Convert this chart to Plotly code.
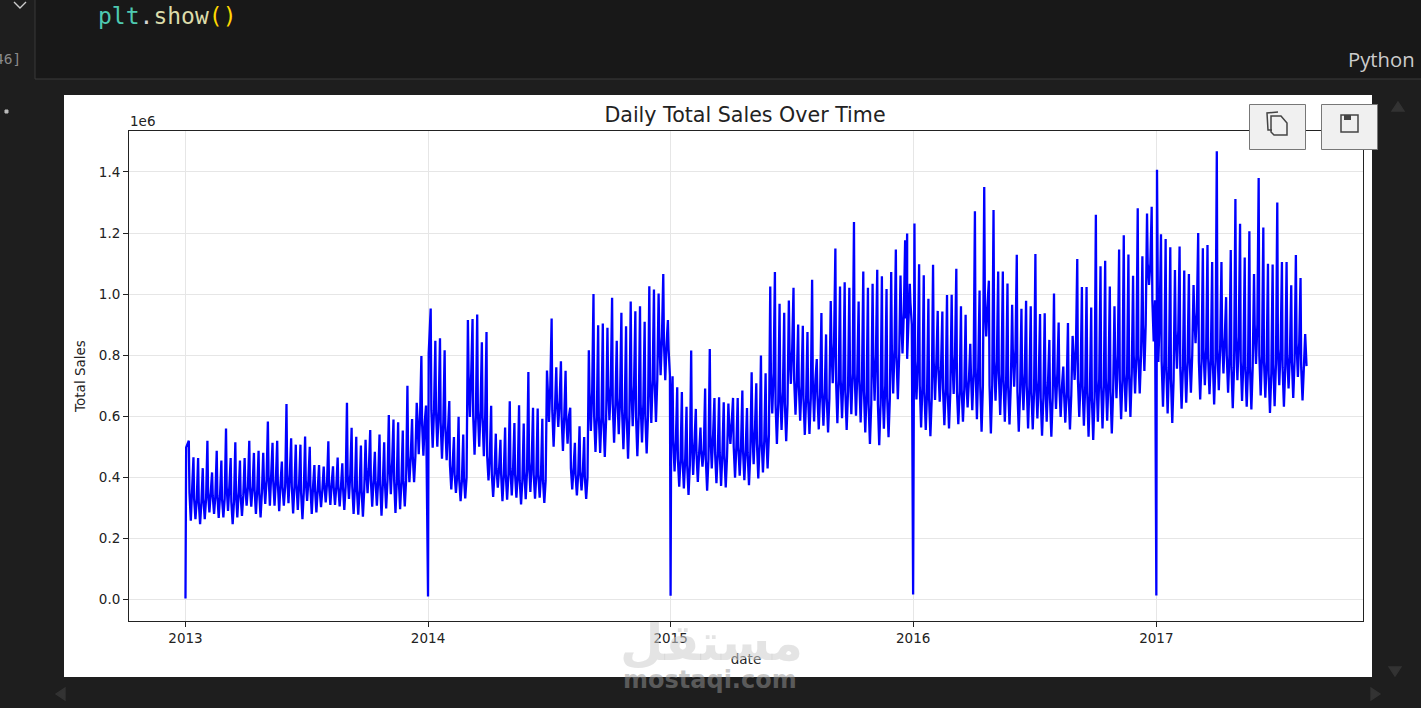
import pandas as pd
import plotly.graph_objects as go

# Values in units of 1e6
peaks_2013 = [.520,.466,.463,.430,.520,.416,.487,.455,.560,.463,
              .515,.455,.463,.520,.480,.487,.480,.583,.513,.520,
              .452,.640,.528,.507,.507,.534,.500,.440,.440,.435,
              .518,.436,.465,.446,.644,.562,.533,.504,.523,.555,
              .484,.540,.515,.604,.589,.580,.553,.700,.591,.644,
              .797,.635]
lows_2013 = [.258,.263,.247,.263,.285,.280,.267,.269,.290,.247,
             .269,.274,.307,.304,.280,.269,.313,.307,.307,.289,
             .307,.315,.282,.293,.263,.323,.280,.285,.302,.318,
             .310,.310,.305,.293,.329,.280,.278,.271,.348,.304,
             .307,.274,.298,.345,.283,.296,.305,.384,.384,.476,
             .471]
bands_2013 = [.35,.33,.32,.33,.35,.34,.34,.33,.37,.32,
              .35,.34,.37,.37,.36,.35,.39,.41,.39,.38,
              .37,.41,.37,.38,.35,.39,.37,.36,.36,.38,
              .38,.37,.37,.37,.41,.37,.36,.36,.43,.39,
              .39,.38,.39,.45,.39,.39,.39,.47,.47,.60,
              .58]
peaks_2014 = [.953,.847,.855,.816,.650,.532,.598,.540,.915,.918,
              .933,.842,.876,.634,.543,.523,.563,.649,.578,.636,
              .576,.745,.628,.625,.592,.750,.920,.760,.780,.749,
              .628,.513,.567,.532,.816,1.000,.898,.904,.890,.988,
              .847,.939,.895,.976,.944,.960,.909,1.026,1.015,1.002,
              1.066,.915]
lows_2014 = [.497,.500,.461,.456,.360,.349,.322,.331,.598,.474,
             .500,.469,.390,.336,.366,.322,.327,.341,.333,.311,
             .328,.352,.330,.333,.316,.581,.500,.565,.486,.510,
             .360,.341,.357,.329,.552,.483,.480,.467,.587,.513,
             .541,.492,.461,.567,.469,.514,.478,.578,.581,.734,
             .718,.734]
bands_2014 = [.62,.62,.58,.57,.44,.41,.39,.40,.74,.60,
              .62,.60,.47,.41,.43,.41,.41,.43,.41,.39,
              .42,.45,.41,.41,.39,.70,.62,.65,.60,.60,
              .43,.41,.42,.40,.68,.60,.60,.59,.70,.64,
              .66,.62,.60,.70,.60,.64,.60,.72,.72,.86,
              .84,.82]
peaks_2015 = [.731,.695,.679,.631,.815,.624,.563,.691,.820,.660,
              .662,.646,.642,.660,.660,.684,.627,.744,.708,.799,
              .741,1.025,1.072,.968,.939,.979,1.021,.900,.896,.876,
              1.047,.787,.938,.868,.977,1.149,1.025,1.039,1.021,1.236,
              .976,1.074,1.021,1.034,1.080,1.058,1.017,1.072,1.146,1.061,
              1.176,1.034]
lows_2015 = [.419,.369,.364,.342,.408,.385,.435,.356,.429,.381,
             .372,.367,.509,.399,.405,.391,.374,.443,.396,.416,
             .429,.609,.509,.555,.518,.706,.605,.585,.539,.542,
             .583,.557,.569,.547,.708,.577,.594,.555,.607,.602,
             .580,.547,.509,.651,.505,.559,.531,.675,.656,.806,
             .788,.900]
bands_2015 = [.52,.46,.46,.44,.52,.48,.49,.46,.54,.48,
              .48,.47,.58,.50,.50,.49,.48,.56,.51,.52,
              .54,.74,.64,.68,.64,.82,.72,.70,.66,.66,
              .72,.67,.68,.66,.84,.72,.72,.68,.74,.74,
              .72,.68,.64,.80,.64,.70,.66,.82,.80,.94,
              .92,.97]
peaks_2016 = [1.231,1.098,1.062,.985,1.096,.945,.943,.997,.998,1.083,
              .960,.932,.837,1.271,1.012,1.351,1.044,1.275,1.074,1.074,
              1.035,.965,1.129,.952,.978,.960,1.131,.935,.937,.850,
              1.002,.907,.763,.905,.863,1.115,1.023,1.023,.956,1.260,
              1.091,1.109,1.025,.960,1.146,1.193,1.130,1.060,1.281,1.124,
              1.264,1.286]
lows_2016 = [.655,.563,.555,.535,.653,.648,.571,.560,.673,.574,
             .582,.629,.620,.590,.549,.861,.544,.651,.604,.582,
             .573,.697,.549,.620,.560,.557,.593,.536,.582,.533,
             .624,.598,.579,.557,.719,.598,.569,.533,.522,.582,
             .560,.585,.544,.659,.590,.615,.598,.675,.675,.748,
             1.030,.845]
bands_2016 = [.78,.70,.68,.66,.78,.76,.69,.68,.80,.68,
              .69,.72,.74,.76,.70,.97,.70,.78,.74,.72,
              .70,.82,.68,.74,.70,.68,.72,.66,.71,.66,
              .74,.70,.68,.67,.82,.72,.70,.68,.66,.72,
              .70,.72,.68,.80,.72,.74,.74,.80,.80,.90,
              1.10,.98]
peaks_2017 = [1.196,1.180,1.153,1.079,1.156,1.077,1.066,1.030,1.200,1.150,
              1.161,1.105,1.468,1.105,.990,1.144,1.311,1.230,1.120,1.206,
              1.066,1.380,1.218,1.099,1.097,1.300,1.105,1.105,1.029,1.128,
              1.053,.869]
lows_2017 = [.778,.631,.609,.578,.756,.625,.644,.677,.839,.655,
             .702,.672,.639,.685,.740,.677,.626,.718,.650,.631,
             .622,.771,.668,.661,.611,.633,.702,.631,.691,.660,
             .729,.652]
bands_2017 = [.92,.78,.76,.72,.88,.76,.78,.80,.94,.78,
              .82,.79,.78,.82,.86,.80,.76,.86,.78,.76,
              .76,.90,.80,.78,.74,.77,.82,.76,.80,.78,
              .84,.76]
first_sundays = ["2013-01-06", "2014-01-05", "2015-01-04", "2016-01-03", "2017-01-08"]
first_lows = ["2013-01-09", "2014-01-08", "2015-01-07", "2016-01-06", "2017-01-04"]
special_dates = ["2013-01-01", "2013-01-02", "2014-01-01", "2014-01-02", "2015-01-01", "2015-01-02",
                 "2015-12-23", "2016-01-01", "2016-01-02", "2017-01-01", "2017-01-02", "2017-08-15"]
special_values = [.003, .498, .010, .805, .012, .620, 1.198, .016, .990, .013, 1.407, .764]
tick_years = ["2013", "2014", "2015", "2016", "2017"]
y_ticks = [0, .2, .4, .6, .8, 1.0, 1.2, 1.4]

points = list(zip(pd.to_datetime(special_dates), special_values))
all_peaks = [peaks_2013, peaks_2014, peaks_2015, peaks_2016, peaks_2017]
all_lows = [lows_2013, lows_2014, lows_2015, lows_2016, lows_2017]
all_bands = [bands_2013, bands_2014, bands_2015, bands_2016, bands_2017]
for start, vals in zip(first_sundays + first_lows, all_peaks + all_lows):
    points += list(zip(pd.date_range(start, periods=len(vals), freq="7D"), vals))
# the Monday and Friday on each side of a weekly low sit at the top of the solid band
for start, vals in zip(first_lows, all_bands):
    days = pd.date_range(start, periods=len(vals), freq="7D")
    for shift in (-2, 2):
        for d, v in zip(days, vals):
            day = d + pd.Timedelta(days=shift)
            if day.strftime("%Y-%m-%d") not in special_dates and day <= pd.Timestamp("2017-08-15"):
                points.append((day, v))
points.sort(key=lambda p: p[0])
dates = [p[0] for p in points]
values = [p[1] for p in points]

W, H = 1421, 708
L, R, T, B = 129, 1363, 131, 621
px = lambda x: (x - L) / (R - L)
py = lambda y: (B - y) / (B - T)

shapes = []
def rect(x0, y0, x1, y1, fill, line=None, layer="above", width=1):
    shapes.append(dict(type="rect", xref="paper", yref="paper", x0=px(x0), x1=px(x1), y0=py(y1), y1=py(y0),
                       fillcolor=fill, line=dict(color=line or fill, width=width if line else 0), layer=layer))
def poly(pts, color, fill=None, width=1.3, close=False):
    d = "M" + " L".join(f"{px(a):.5f},{py(b):.5f}" for a, b in pts) + (" Z" if close else "")
    shapes.append(dict(type="path", xref="paper", yref="paper", path=d, fillcolor=fill or "rgba(0,0,0,0)",
                       line=dict(color=color, width=width), layer="above"))

rect(64, 95, 1372, 677, "#ffffff", layer="below")
rect(0, 0, 1421, 79, "#181818", layer="below")
rect(0, 0, 35, 79, "#1e1e1e", layer="below")
poly([(35, 0), (35, 79), (1421, 79)], "#3a3a3a", width=1)
poly([(14, 2), (20, 8), (26, 2)], "#cccccc", width=1.4)
poly([(5, 110), (8, 110), (8, 113), (5, 113)], "#bbbbbb", fill="#bbbbbb", width=1, close=True)
# toolbar buttons over the figure
rect(1249.5, 104.5, 1305.5, 149.5, "#f0f0f0", "#777777")
rect(1321.5, 104.5, 1377.5, 149.5, "#f0f0f0", "#777777")
poly([(1272, 130), (1268, 130), (1267, 113), (1278, 112)], "#444444", width=1.5)
poly([(1271, 116), (1281, 116), (1287, 123), (1287, 135), (1274, 135), (1271, 132)], "#444444", width=1.5, close=True)
poly([(1341, 115), (1358, 115), (1358, 132), (1341, 132)], "#444444", width=1.5, close=True)
rect(1344, 115, 1351, 120, "#444444")
# scroll arrows
poly([(1392, 111), (1398, 102), (1404, 111)], "#333333", fill="#333333", close=True)
poly([(1389, 667), (1395, 676), (1401, 667)], "#333333", fill="#333333", close=True)
poly([(65, 688), (56, 694), (65, 700)], "#333333", fill="#333333", close=True)
poly([(1371, 688), (1380, 694), (1371, 700)], "#333333", fill="#333333", close=True)

def note(x, y, text, size, color, font="DejaVu Sans", anchor="left"):
    return dict(xref="paper", yref="paper", x=px(x), y=py(y), text=text, showarrow=False, xanchor=anchor,
                yanchor="middle", font=dict(family=font, size=size, color=color))

code = ('<span style="color:#4ec9b0">plt</span><span style="color:#d4d4d4">.</span>'
        '<span style="color:#dcdcaa">show</span><span style="color:#ffd700">()</span>')
annotations = [
    note(96, 16, code, 23, "#d4d4d4", "DejaVu Sans Mono"),
    note(23, 59, "46]", 14.5, "#8a8a8a", "DejaVu Sans Mono", "right"),
    note(1417, 59, "Python", 20.3, "#cccccc", "Open Sans", "right"),
    note(128, 121, "1e6", 13.5, "#222222"),
    note(711, 643, "<b>مستقل</b>", 50, "rgba(205,205,205,0.55)", "DejaVu Sans", "center"),
    note(710, 680, "<b>mostaqi.com</b>", 24, "rgba(150,150,150,0.5)", "DejaVu Sans", "center"),
]

fig = go.Figure(go.Scatter(x=dates, y=values, mode="lines", line=dict(color="#0000ff", width=2.3), hoverinfo="skip"))
axis_common = dict(showgrid=True, gridcolor="#e6e6e6", gridwidth=1, zeroline=False, showline=True, mirror=True,
                   linecolor="#222222", linewidth=1, ticks="outside", ticklen=5, tickcolor="#222222",
                   tickfont=dict(family="DejaVu Sans", size=13.5, color="#222222"))
fig.update_layout(
    width=W, height=H, autosize=False, margin=dict(l=L, r=W - R, t=T, b=H - B, pad=0),
    paper_bgcolor="#1e1e1e", plot_bgcolor="#ffffff", showlegend=False,
    title=dict(text="Daily Total Sales Over Time", x=745 / W, y=1 - 115 / H, xanchor="center", yanchor="middle",
               font=dict(family="DejaVu Sans", size=20.6, color="#222222")),
    xaxis=dict(axis_common, type="date", range=["2012-10-08", "2017-11-08"],
               tickmode="array", tickvals=[y + "-01-01" for y in tick_years], ticktext=tick_years,
               title=dict(text="date", standoff=9, font=dict(family="DejaVu Sans", size=13.5, color="#222222"))),
    yaxis=dict(axis_common, range=[-.0704, 1.534], tickmode="array", tickvals=y_ticks,
               ticktext=[f"{v:.1f}" for v in y_ticks],
               title=dict(text="Total Sales", standoff=10, font=dict(family="DejaVu Sans", size=13.5, color="#222222"))),
    shapes=shapes, annotations=annotations,
)
fig.write_html("out.html", config=dict(displayModeBar=False),
               post_script="document.body.style.margin='0';document.body.style.overflow='hidden';")
